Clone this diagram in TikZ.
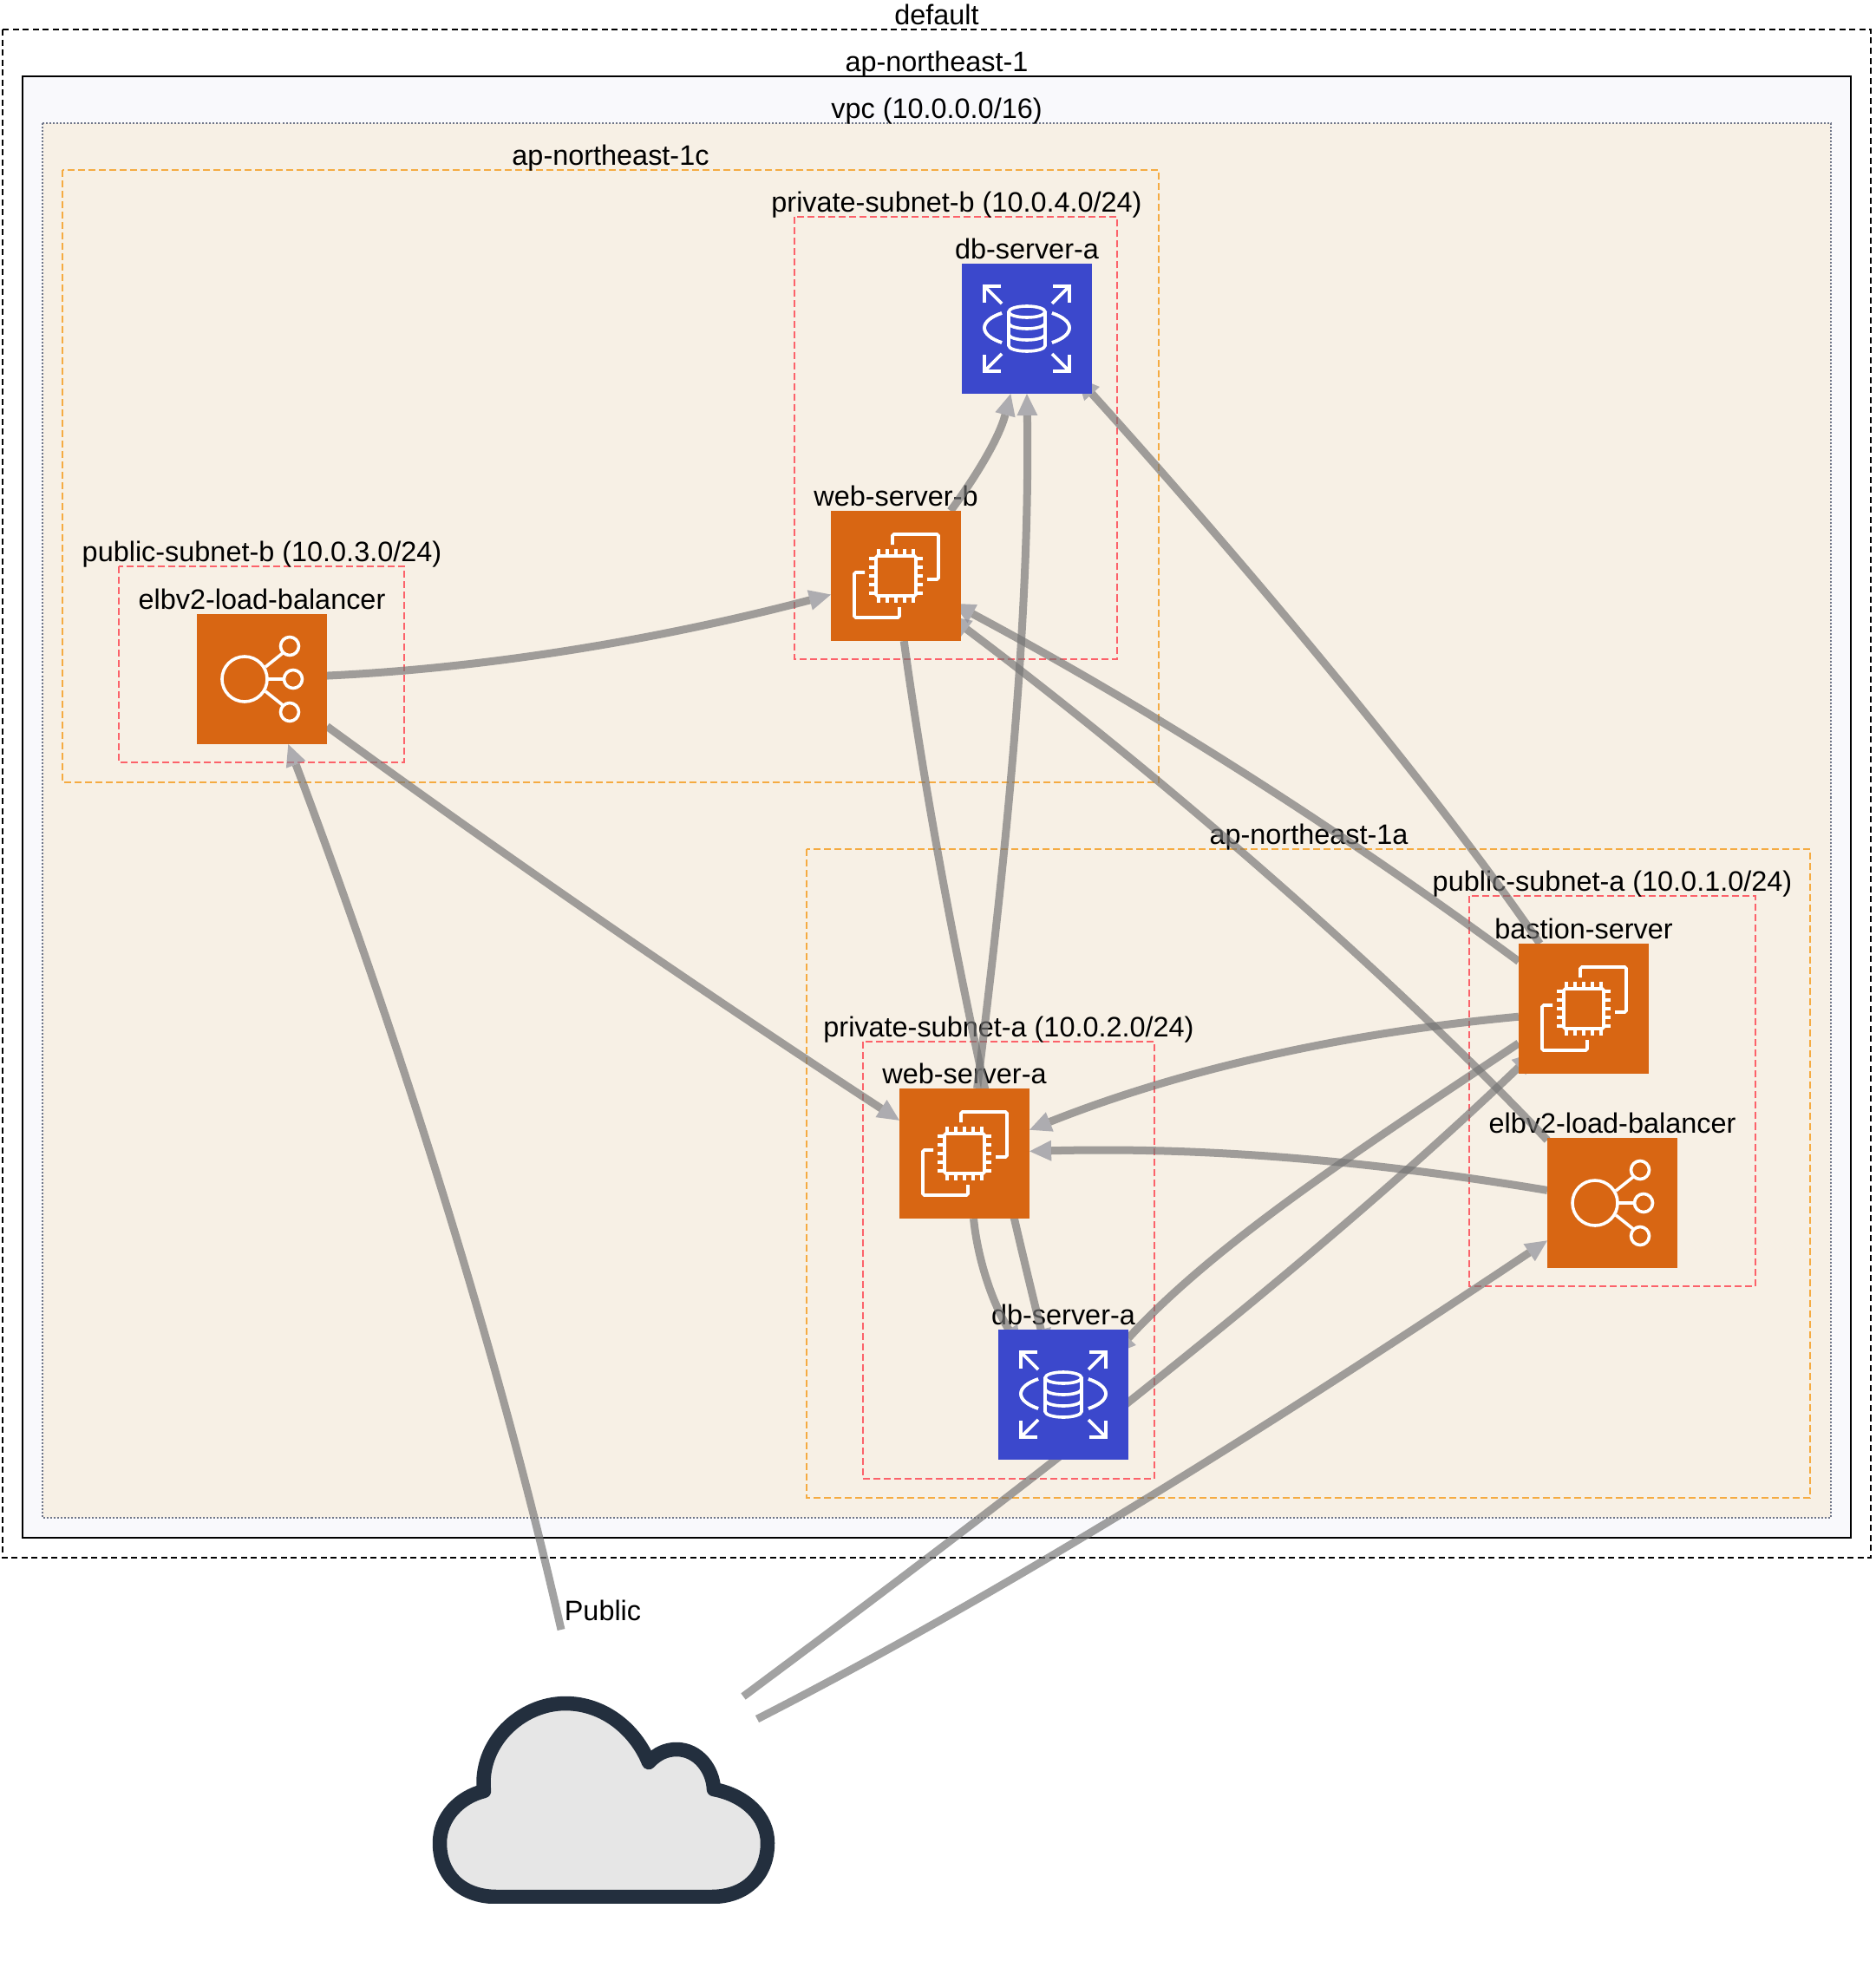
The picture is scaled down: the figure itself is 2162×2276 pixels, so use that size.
\documentclass[tikz,border=0pt]{standalone}
\usepackage{fontspec}
\setmainfont{Liberation Sans}
\usetikzlibrary{arrows.meta,backgrounds}

\definecolor{regionfill}{HTML}{F9F9FC}
\definecolor{vpcfill}{HTML}{F7F0E5}
\definecolor{vpcline}{HTML}{6F7689}
\definecolor{azline}{HTML}{F5AB42}
\definecolor{subnetline}{HTML}{FC626A}
\definecolor{ecorange}{HTML}{D86613}
\definecolor{rdsblue}{HTML}{3B48CC}
\definecolor{linegray}{HTML}{747474}
\definecolor{headgray}{HTML}{8A8B96}
\definecolor{cloudline}{HTML}{232F3E}
\definecolor{cloudfill}{HTML}{E6E6E6}

\tikzset{
  lbl/.style={inner sep=0pt,anchor=base,yshift=.055cm,font=\fontsize{9.22}{11}\selectfont},
  groupbox/.style={line width=.022cm,dash pattern=on .07cm off .045cm},
  regionbox/.style={draw=black,line width=.028cm,fill=regionfill},
  vpcbox/.style={draw=vpcline,line width=.022cm,dash pattern=on .02cm off .02cm,fill=vpcfill},
  azbox/.style={draw=azline,line width=.025cm,dash pattern=on .08cm off .04cm},
  subnetbox/.style={draw=subnetline,line width=.025cm,dash pattern=on .08cm off .04cm},
  icon/.style={minimum size=1.5cm,inner sep=0pt,outer sep=0pt},
  ecbox/.style={icon,fill=ecorange},
  rdsbox/.style={icon,fill=rdsblue},
  glyph/.style={draw=white,line width=.036cm},
  conn/.style={draw=linegray,opacity=.67,line width=.09cm,
    -{Triangle[length=.25cm,width=.24cm,color=headgray,line width=0pt]}},
  under/.style={shorten >=-#1},
  under/.default=.25cm,
  ecglyph/.pic={
    \draw[glyph,rounded corners=.5pt] (-23,-23) rectangle (23,23);
    \foreach \p in {-20,-10,0,10,20} {
      \draw[glyph] (\p,-31) -- (\p,-23);
      \draw[glyph] (\p,23) -- (\p,31);
      \draw[glyph] (-31,\p) -- (-23,\p);
      \draw[glyph] (23,\p) -- (31,\p);
    }
    \draw[glyph,rounded corners=.5pt] (-4,-36) -- (-4,-48) -- (49,-48) -- (49,4) -- (36,4);
    \draw[glyph,rounded corners=.5pt] (-36,-4) -- (-48,-4) -- (-48,48) -- (4,48) -- (4,36);
  },
  lbglyph/.pic={
    \draw[glyph] (-20,0) circle (26);
    \foreach \p/\q in {32/-38,36/0,32/38}
      \draw[glyph] (\p,\q) circle (10.5);
    \draw[glyph] (4,-14) -- (24,-30);
    \draw[glyph] (6,0) -- (25,0);
    \draw[glyph] (4,14) -- (24,30);
  },
  rdsglyph/.pic={
    \foreach \p/\q in {1/1,1/-1,-1/1,-1/-1} {
      \draw[glyph,miter limit=4] (\p*30,\q*49) -- (\p*49,\q*49) -- (\p*49,\q*30);
      \draw[glyph] (\p*49,\q*49) -- (\p*29,\q*29);
      \draw[glyph] (\p*29,-18) .. controls (\p*41,-14) and (\p*49,-8) .. (\p*49,-1)
        .. controls (\p*49,6) and (\p*41,12) .. (\p*29,16);
    }
    \draw[glyph] (0,-19.5) ellipse (21 and 6.5);
    \draw[glyph] (-21,-19.5) -- (-21,19.5) arc[start angle=180,end angle=360,x radius=21,y radius=-6.5] -- (21,-19.5);
    \draw[glyph] (-21,-6.5) arc[start angle=180,end angle=360,x radius=21,y radius=-6.5];
    \draw[glyph] (-21,6.5) arc[start angle=180,end angle=360,x radius=21,y radius=-6.5];
  }
}

\begin{document}
\begin{tikzpicture}[x=.01cm,y=-.01cm]
\useasboundingbox (0,0) rectangle (2162,2276);

% icons
\node[rdsbox] (dbb) at (1184,379) {};
\node[ecbox] (webb) at (1033,664) {};
\node[ecbox] (lbb) at (302,783) {};
\node[ecbox] (weba) at (1112,1330) {};
\node[rdsbox] (dba) at (1226,1608) {};
\node[ecbox] (bastion) at (1826,1163) {};
\node[ecbox] (lba) at (1859,1387) {};
\pic at (dbb) {rdsglyph};
\pic at (dba) {rdsglyph};
\pic at (webb) {ecglyph};
\pic at (weba) {ecglyph};
\pic at (bastion) {ecglyph};
\pic at (lbb) {lbglyph};
\pic at (lba) {lbglyph};

\coordinate (cloudp) at (647,1879);
\coordinate (cloudb) at (857,1956);
\coordinate (cloudl) at (873,1982);

\begin{scope}[on background layer]
% groups
\draw[groupbox,draw=black] (3,34) rectangle (2157,1796);
\draw[regionbox] (26,88) rectangle (2134,1773);
\draw[vpcbox] (49,142) rectangle (2111,1750);
\draw[azbox] (72,196) rectangle (1336,902);
\draw[subnetbox] (916,250) rectangle (1288,760);
\draw[subnetbox] (137,653) rectangle (466,879);
\draw[azbox] (930,979) rectangle (2087,1727);
\draw[subnetbox] (995,1201) rectangle (1331,1705);
\draw[subnetbox] (1694,1033) rectangle (2024,1483);
\node[lbl] (ldefault) at (1080,34) {default};
\node[lbl] (lregion) at (1080,88) {ap-northeast-1};
\node[lbl] (lvpc) at (1080,142) {vpc (10.0.0.0/16)};
\node[lbl] (lazc) at (704,196) {ap-northeast-1c};
\node[lbl] (lprib) at (1103,250) {private-subnet-b (10.0.4.0/24)};
\node[lbl] (lpubb) at (302,653) {public-subnet-b (10.0.3.0/24)};
\node[lbl] (laza) at (1509,979) {ap-northeast-1a};
\node[lbl] (lpria) at (1163,1201) {private-subnet-a (10.0.2.0/24)};
\node[lbl] (lpuba) at (1859,1033) {public-subnet-a (10.0.1.0/24)};
\node[lbl] (ldbb) at (dbb.north) {db-server-a};
\node[lbl] (lwebb) at (webb.north) {web-server-b};
\node[lbl] (llbb) at (lbb.north) {elbv2-load-balancer};
\node[lbl] (lweba) at (weba.north) {web-server-a};
\node[lbl] (ldba) at (dba.north) {db-server-a};
\node[lbl] (lbastion) at (bastion.north) {bastion-server};
\node[lbl] (llba) at (lba.north) {elbv2-load-balancer};
\node[lbl,yshift=-.055cm] (lpublic) at (695,1868) {Public};

% connectors
\draw[conn] (lbb.3) .. controls (570,770) and (770,735) .. (webb.196);
\draw[conn] (lbb.324) .. controls (600,1000) and (820,1150) .. (weba.153);
\draw[conn] (cloudp) .. controls (570,1540) and (450,1170) .. (lbb.292);
\draw[conn] (webb.50) .. controls (1125,550) and (1152,505) .. (dbb.256);
\draw[conn] (weba.79) .. controls (1158,1000) and (1188,720) .. (dbb.270);
\draw[conn,under] (webb.277) .. controls (1079,1004) and (1135,1268) .. (dba.109);
\draw[conn,under] (weba.278) .. controls (1127,1450) and (1143,1500) .. (dba.130);
\draw[conn,under=.1cm] (bastion.144) .. controls (1570,975) and (1350,830) .. (webb.334);
\draw[conn,under=.17cm] (lba.136) .. controls (1610,1130) and (1340,895) .. (webb.323);
\draw[conn,under] (bastion.124) .. controls (1640,890) and (1400,610) .. (dbb.315);
\draw[conn] (bastion.187) .. controls (1560,1190) and (1370,1230) .. (weba.20);
\draw[conn] (lba.169) .. controls (1590,1340) and (1400,1322) .. (weba.2);
\draw[conn,under] (bastion.208) .. controls (1560,1330) and (1400,1435) .. (dba.41);
\draw[conn,under] (cloudb) .. controls (1100,1775) and (1480,1490) .. (bastion.222);
\draw[conn] (cloudl) .. controls (1180,1825) and (1500,1620) .. (lba.210);
\end{scope}

% cloud
\begin{scope}
\clip (400,1900) rectangle (1000,2194);
\draw[draw=cloudline,fill=cloudfill,line width=.165cm,line join=round]
  (573,2187) .. controls (530,2187) and (507,2160) .. (507,2125)
  .. controls (507,2095) and (530,2072) .. (558,2065)
  .. controls (552,2010) and (600,1964) .. (652,1964)
  .. controls (697,1964) and (733,1995) .. (748,2032)
  .. controls (757,2022) and (768,2017) .. (780,2017)
  .. controls (805,2017) and (822,2040) .. (823,2063)
  .. controls (860,2070) and (885,2095) .. (885,2125)
  .. controls (885,2162) and (860,2187) .. (820,2187) -- cycle;
\end{scope}
\end{tikzpicture}
\end{document}
